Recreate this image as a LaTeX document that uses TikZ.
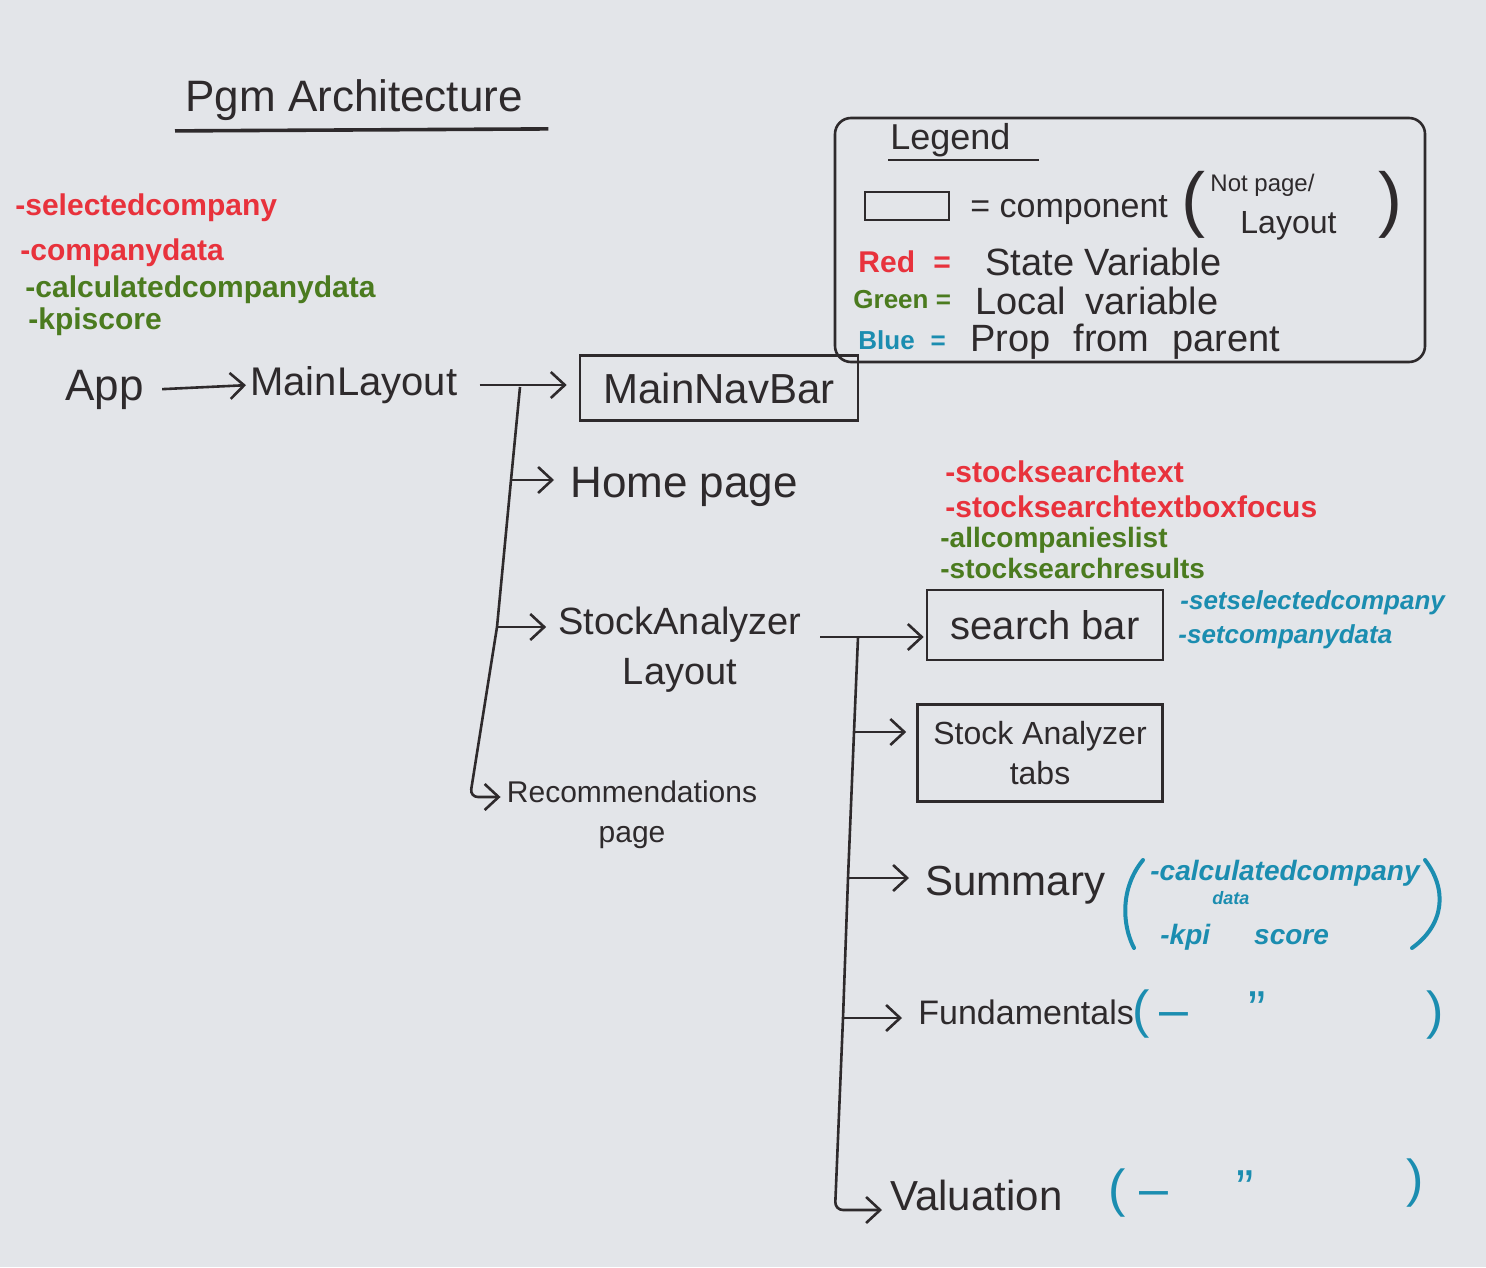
\documentclass[tikz,border=0pt]{standalone}
\usepackage{fontspec}
\setmainfont{Liberation Sans}
\usetikzlibrary{arrows.meta,calc}
\definecolor{paper}{HTML}{E3E5E9}
\definecolor{ink}{HTML}{2E2A2C}
\definecolor{inkred}{HTML}{E8323C}
\definecolor{inkgreen}{HTML}{4B7B1F}
\definecolor{inkblue}{HTML}{1B8DB0}
\newcommand{\hfs}[1]{\fontsize{#1pt}{1.2\dimexpr#1pt\relax}\selectfont}
\newcommand{\hfsb}[2]{\fontsize{#1pt}{#2pt}\selectfont}
\tikzset{
  lbl/.style={inner sep=0pt, anchor=west, text=ink},
  redv/.style={inner sep=0pt, anchor=west, text=inkred, font=\hfs{15}\bfseries},
  greenv/.style={inner sep=0pt, anchor=west, text=inkgreen, font=\hfs{14}\bfseries},
  bluev/.style={inner sep=0pt, anchor=west, text=inkblue, font=\hfs{13}\bfseries\itshape},
  bparen/.style={inner sep=0pt, text=inkblue},
  bracket/.style={draw=inkblue, line width=2pt, line cap=round},
  comp/.style={draw=ink, line width=1.3pt, rectangle, inner sep=2pt, text=ink},
  conn/.style={draw=ink, line width=1.3pt},
  arr/.style={conn, -{Straight Barb[length=7pt,width=13pt]}},
}
\begin{document}
\begin{tikzpicture}[x=0.5pt,y=-0.5pt]
\fill[paper] (0,0) rectangle (1486,1267);
\useasboundingbox (0,0) rectangle (1486,1267);

% title
\node[lbl, font=\hfs{22}] (title) at (185,100) {Pgm Architecture};
\draw[conn, line width=1.8pt] ($(title.south west)+(-10,10)$) -- ($(title.south east)+(25,8)$);

% app state
\node[redv] (sc) at (15,208) {-selectedcompany};
\node[redv] (cd) at (20,253) {-companydata};
\node[greenv, font=\hfs{15}\bfseries] (ccd) at (25,290) {-calculatedcompanydata};
\node[greenv, font=\hfs{15}\bfseries] (kpi) at (28,322) {-kpiscore};

% main chain
\node[lbl, font=\hfs{22}] (app) at (65,390) {App};
\node[lbl, font=\hfs{20}] (ML) at (250,385) {MainLayout};
\node[comp, minimum width=139pt, minimum height=32.5pt, font=\hfs{21}] (nav) at (719,388) {MainNavBar};
\draw[arr, shorten <=9pt, shorten >=2pt] (app.east) -- (ML.west);
\draw[arr, shorten <=11pt, shorten >=6pt] (ML.east) -- (ML.east -| nav.west);

\node[lbl, font=\hfs{22}] (home) at (570,487) {Home page};
\node[inner sep=0pt, text=ink, align=center, font=\hfsb{19}{25}] (SAL) at (680,650) {StockAnalyzer\\Layout};
\node[inner sep=0pt, text=ink, align=center, font=\hfsb{15}{20}] (rec) at (632,815) {Recommendations\\page};

\coordinate (t1a) at (520,387);
\coordinate (b1) at (511,480);
\coordinate (b2) at (497,627);
\coordinate (t1b) at (470,797);
\draw[conn] (t1a) -- (b1) -- (b2);
\draw[arr, shorten >=8pt] (b1) -- (b1 -| home.west);
\draw[arr, shorten >=6pt] (b2) -- (b2 -| SAL.west);
\draw[arr, rounded corners=4pt, shorten >=3pt] (b2) -- (t1b) -- (t1b -| rec.west);

% legend
\node[draw=ink, line width=1.3pt, rounded corners=8pt, minimum width=295pt, minimum height=122pt] (legend) at (1130,240) {};
\node[lbl, font=\hfs{18}] (legtitle) at (890,140) {Legend};
\draw[conn] ($(legtitle.south west)+(-2,3)$) -- ($(legtitle.south east)+(28,3)$);
\node[comp, minimum width=42pt, minimum height=14pt, inner sep=0pt] (legsq) at (907,206) {};
\node[lbl, font=\hfs{17}] (legcomp) at (970,210) {= component};
\node[inner sep=0pt, text=ink, font=\hfs{36}] (lpo) at (1193,205) {(};
\node[lbl, font=\hfs{12}] (notpage) at (1210,185) {Not page/};
\node[lbl, font=\hfs{16}] (layoutw) at (1240,226) {Layout};
\node[inner sep=0pt, text=ink, font=\hfs{36}] (lpc) at (1390,205) {)};
\node[inner sep=0pt, anchor=west, text=inkred, font=\hfs{15}\bfseries] (legred) at (858,262) {Red\,\, =};
\node[lbl, font=\hfs{19}] (legstate) at (985,262) {State Variable};
\node[inner sep=0pt, anchor=west, text=inkgreen, font=\hfs{13}\bfseries] (leggreen) at (853,300) {Green =};
\node[lbl, font=\hfs{19}] (leglocal) at (975,301) {Local\hspace{0.5em}variable};
\node[inner sep=0pt, anchor=west, text=inkblue, font=\hfs{13}\bfseries] (legblue) at (858,340) {Blue\,\, =};
\node[lbl, font=\hfs{19}] (legprop) at (970,342) {Prop\hspace{0.6em}from\hspace{0.6em}parent};

% search bar group
\node[redv] (sst) at (945,472) {-stocksearchtext};
\node[redv] (sstf) at (945,507) {-stocksearchtextboxfocus};
\node[greenv] (acl) at (940,540) {-allcompanieslist};
\node[greenv] (ssr) at (940,568) {-stocksearchresults};
\node[comp, minimum width=118pt, minimum height=35pt, font=\hfs{20}] (search) at (1045,625) {search bar};
\node[bluev] (ssc) at (1180,603) {-setselectedcompany};
\node[bluev] (scd) at (1178,637) {-setcompanydata};

\node[comp, minimum width=122.5pt, minimum height=48.5pt, align=center, font=\hfsb{16}{20}] (tabs) at (1040,753) {Stock Analyzer\\tabs};

\node[lbl, font=\hfs{21}] (summary) at (925,885) {Summary};
\node[inner sep=0pt, anchor=north west, align=left, text=inkblue, font=\hfsb{14}{16}\bfseries\itshape] (sprops) at (1150,860)
  {-calculatedcompany\\[-4pt]\hspace{31pt}{\hfs{9}data}\\[4pt]\hspace{5pt}-kpi\hspace{22pt}score};
\draw[bracket] (1143,860) .. controls (1120,888) and (1122,925) .. (1134,948);
\draw[bracket] (1425,860) .. controls (1448,890) and (1444,925) .. (1412,948);

\node[lbl, font=\hfs{17}] (fund) at (918,1012) {Fundamentals};
\node[bparen, anchor=west, font=\hfs{26}] (fpo) at (1132,1014) {(\hspace{5pt}–\hspace{30pt}”};
\node[bparen, font=\hfs{26}] (fpc) at (1435,1015) {)};

\node[lbl, font=\hfs{21}] (val) at (890,1195) {Valuation};
\node[bparen, anchor=west, font=\hfs{26}] (vpo) at (1108,1193) {(\hspace{7pt}–\hspace{34pt}”};
\node[bparen, font=\hfs{26}] (vpc) at (1415,1183) {)};

% second trunk
\coordinate (saout) at (820,637);
\coordinate (t2a) at (858,637);
\coordinate (b3) at (854,732);
\coordinate (b4) at (848,878);
\coordinate (b5) at (843,1018);
\coordinate (t2b) at (835,1210);
\draw[arr, shorten >=1pt] (saout) -- (saout -| search.west);
\draw[conn] (t2a) -- (b3) -- (b4) -- (b5);
\draw[arr, shorten >=5pt] (b3) -- (b3 -| tabs.west);
\draw[arr, shorten >=8pt] (b4) -- (b4 -| summary.west);
\draw[arr, shorten >=8pt] (b5) -- (b5 -| fund.west);
\draw[arr, rounded corners=4pt, shorten >=4pt] (b5) -- (t2b) -- (t2b -| val.west);
\end{tikzpicture}
\end{document}
